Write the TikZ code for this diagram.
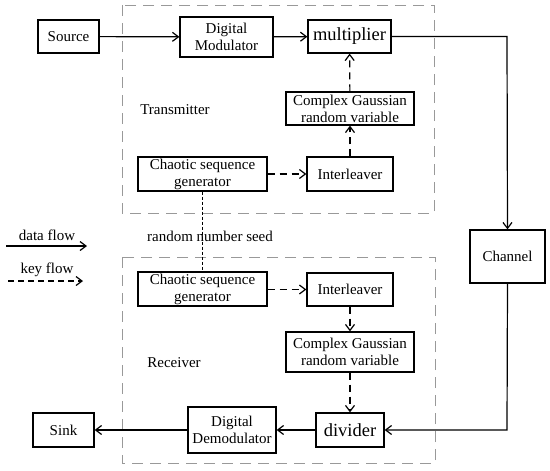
\documentclass[tikz,border=0pt]{standalone}
\usepackage{fontspec}
\setmainfont{Liberation Serif}
\usetikzlibrary{arrows.meta}
\tikzset{
  blk/.style={draw, line width=1.2pt, inner sep=0pt, align=center, font=\fontsize{15}{17}\selectfont},
  bigblk/.style={blk, font=\fontsize{18.5}{20}\selectfont},
  lbl/.style={inner sep=0pt, font=\fontsize{15}{17}\selectfont},
  data/.style={line width=1.2pt, -{Straight Barb[length=6pt,width=9pt,line width=1.2pt]}},
  keyf/.style={line width=1.2pt, dash pattern=on 7pt off 5pt, -{Straight Barb[length=6pt,width=9pt,line width=1.2pt]}},
  seed/.style={line width=1.6pt, dash pattern=on 3pt off 2pt},
  region/.style={draw=black!40, line width=0.8pt, dash pattern=on 11pt off 7pt}
}
\begin{document}
\begin{tikzpicture}[x=1pt,y=-1pt]
\useasboundingbox (0,0) rectangle (550,471);
% regions
\draw[region] (122,5) rectangle (434,213);
\draw[region] (122,257) rectangle (435,463);
% blocks
\node[blk, minimum width=61pt, minimum height=33pt] (src) at (68.5,36.5) {Source};
\node[blk, minimum width=93pt, minimum height=40pt] (mod) at (226.5,37) {Digital\\Modulator};
\node[bigblk, minimum width=83pt, minimum height=33pt] (mult) at (349.5,36.5) {multiplier};
\node[blk, minimum width=128pt, minimum height=33pt] (cgT) at (350,108.5) {Complex Gaussian\\random variable};
\node[blk, minimum width=86pt, minimum height=34pt] (intT) at (350,174) {Interleaver};
\node[blk, minimum width=129pt, minimum height=34pt] (csgT) at (202.5,174) {Chaotic sequence\\generator};
\node[blk, minimum width=75pt, minimum height=53pt] (chan) at (507.5,256.5) {Channel};
\node[blk, minimum width=129pt, minimum height=34pt] (csgR) at (202.5,289) {Chaotic sequence\\generator};
\node[blk, minimum width=86pt, minimum height=33pt] (intR) at (350,289.5) {Interleaver};
\node[blk, minimum width=128pt, minimum height=40pt] (cgR) at (350,352) {Complex Gaussian\\random variable};
\node[bigblk, minimum width=68pt, minimum height=34pt] (div) at (350,430) {divider};
\node[blk, minimum width=88pt, minimum height=46pt] (demod) at (232,430) {Digital\\Demodulator};
\node[blk, minimum width=61pt, minimum height=34pt] (sink) at (63.5,430) {Sink};
% labels
\node[lbl] (tx) at (175,110) {Transmitter};
\node[lbl] (rx) at (174,363) {Receiver};
\node[lbl] (rns) at (210,236) {random number seed};
\node[lbl] (df) at (47,235) {data flow};
\node[lbl] (kf) at (47,270) {key flow};
\coordinate (dfa) at (6,246);
\coordinate (dfb) at (87,246);
\coordinate (kfa) at (8,281);
\coordinate (kfb) at (83,281);
\coordinate (c1) at (507,36.5);
\coordinate (c2) at (507,430);
% data flow
\draw[data] (src) -- (mod);
\draw[data] (mod) -- (mult);
\draw[data] (mult.east) -- (c1) -- (chan.north);
\draw[data] (chan.south) -- (c2) -- (div.east);
\draw[data] (div) -- (demod);
\draw[data] (demod) -- (sink);
% key flow
\draw[keyf] (csgT) -- (intT);
\draw[keyf] (intT) -- (cgT);
\draw[keyf] (cgT) -- (mult);
\draw[keyf] (csgR.east |- intR) -- (intR);
\draw[keyf] (intR) -- (cgR);
\draw[keyf] (cgR) -- (div);
% seed
\draw[seed] (csgT.south) -- (csgR.north);
% legend
\draw[data] (dfa) -- (dfb);
\draw[keyf, dash pattern=on 6pt off 4pt] (kfa) -- (kfb);
\end{tikzpicture}
\end{document}
